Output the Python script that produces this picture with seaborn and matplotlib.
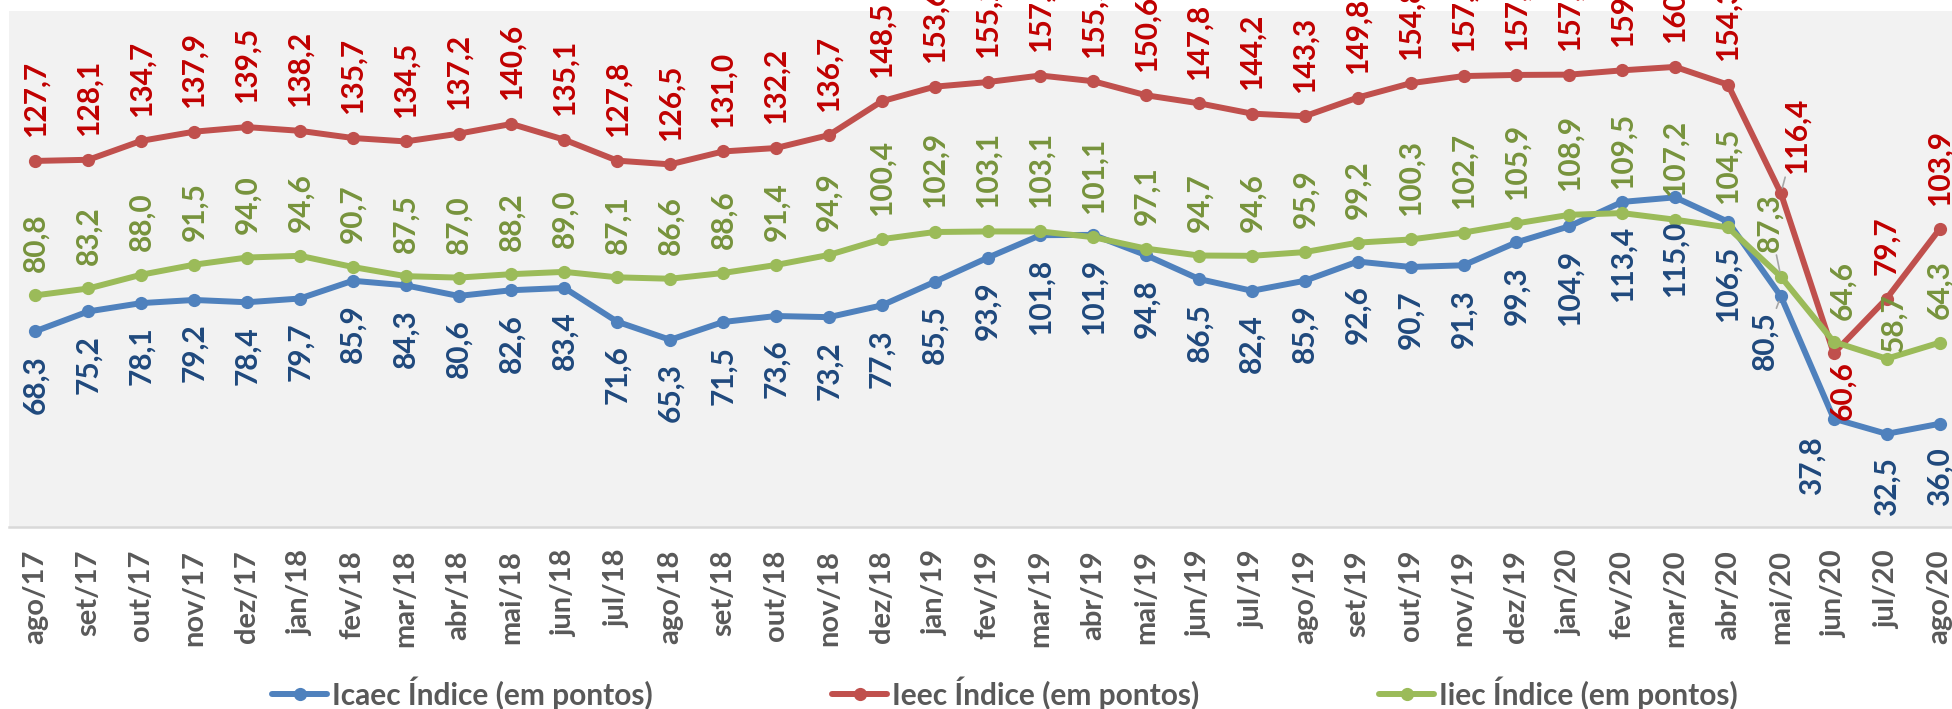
import numpy as np
import pandas as pd
import matplotlib.pyplot as plt
from matplotlib.lines import Line2D
import seaborn as sns

# Monthly values
months = ['ago/17', 'set/17', 'out/17', 'nov/17', 'dez/17', 'jan/18', 'fev/18', 'mar/18',
          'abr/18', 'mai/18', 'jun/18', 'jul/18', 'ago/18', 'set/18', 'out/18', 'nov/18',
          'dez/18', 'jan/19', 'fev/19', 'mar/19', 'abr/19', 'mai/19', 'jun/19', 'jul/19',
          'ago/19', 'set/19', 'out/19', 'nov/19', 'dez/19', 'jan/20', 'fev/20', 'mar/20',
          'abr/20', 'mai/20', 'jun/20', 'jul/20', 'ago/20']

icaec = [68.3, 75.2, 78.1, 79.2, 78.4, 79.7, 85.9, 84.3, 80.6, 82.6, 83.4, 71.6, 65.3,
         71.5, 73.6, 73.2, 77.3, 85.5, 93.9, 101.8, 101.9, 94.8, 86.5, 82.4, 85.9, 92.6,
         90.7, 91.3, 99.3, 104.9, 113.4, 115.0, 106.5, 80.5, 37.8, 32.5, 36.0]

ieec = [127.7, 128.1, 134.7, 137.9, 139.5, 138.2, 135.7, 134.5, 137.2, 140.6, 135.1,
        127.8, 126.5, 131.0, 132.2, 136.7, 148.5, 153.6, 155.2, 157.5, 155.5, 150.6,
        147.8, 144.2, 143.3, 149.8, 154.8, 157.3, 157.7, 157.8, 159.3, 160.5, 154.3,
        116.4, 60.6, 79.7, 103.9]

iiec = [80.8, 83.2, 88.0, 91.5, 94.0, 94.6, 90.7, 87.5, 87.0, 88.2, 89.0, 87.1, 86.6,
        88.6, 91.4, 94.9, 100.4, 102.9, 103.1, 103.1, 101.1, 97.1, 94.7, 94.6, 95.9, 99.2,
        100.3, 102.7, 105.9, 108.9, 109.5, 107.2, 104.5, 87.3, 64.6, 58.7, 64.3]

series = ['Icaec Índice (em pontos)', 'Ieec Índice (em pontos)', 'Iiec Índice (em pontos)']
line_colors = ['#4F81BD', '#C0504D', '#9BBB59']
label_colors = ['#1F497D', '#C00000', '#77933C']

df = pd.DataFrame({'pos': np.arange(len(months)), series[0]: icaec,
                   series[1]: ieec, series[2]: iiec})
long = df.melt(id_vars='pos', var_name='serie', value_name='valor')

sns.set_style('white')
plt.rcParams['font.family'] = ['Lato', 'DejaVu Sans']
plt.rcParams['font.weight'] = 'bold'

fig = plt.figure(figsize=(19.52, 7.09), dpi=100)
fig.patch.set_facecolor('white')
ax = fig.add_axes([9 / 1952, 182 / 709, 1957 / 1952, 516 / 709])
ax.set_facecolor('#F2F2F2')

sns.lineplot(data=long, x='pos', y='valor', hue='serie', hue_order=series,
             palette=line_colors, marker='o', markersize=9.5, markeredgewidth=0,
             linewidth=4.3, legend=False, ax=ax)

ax.set_xlim(-0.5, len(months) - 0.5)
ax.set_ylim(0, 180)
ax.set_yticks([])
ax.set_xlabel('')
ax.set_ylabel('')
ax.set_xticks(np.arange(len(months)))
ax.set_xticklabels(months, rotation=90, fontsize=21, fontweight='bold', color='#595959')
ax.tick_params(axis='x', length=0, pad=16.5)
for s in ['left', 'right', 'top']:
    ax.spines[s].set_visible(False)
ax.spines['bottom'].set_color('#D9D9D9')
ax.spines['bottom'].set_linewidth(1.8)

# data labels: above for Ieec / Iiec, below for Icaec; a few moved by hand
default_dy = [-17, 17, 17]
moved = {
    (1, 33): (11, 14, True),
    (2, 33): (-8, 18, True),
    (0, 33): (-12, -11, True),
    (1, 34): (6, -6, False),
    (2, 34): (6, 16, False),
    (0, 34): (-16, -13, False),
    (2, 35): (5, 5, False),
}
for k, vals in enumerate([icaec, ieec, iiec]):
    for i, v in enumerate(vals):
        dx, dy, leader = moved.get((k, i), (0, default_dy[k], False))
        txt = f'{v:.1f}'.replace('.', ',')
        arrow = dict(arrowstyle='-', color='#A6A6A6', lw=1.2, shrinkA=0, shrinkB=4) if leader else None
        ax.annotate(txt, xy=(i, v), xytext=(dx, dy), textcoords='offset points',
                    rotation=90, ha='center', va='bottom' if dy > 0 else 'top',
                    fontsize=21.5, fontweight='bold', color=label_colors[k],
                    annotation_clip=False, arrowprops=arrow)

handles = [Line2D([], [], color=c, lw=4.3, marker='o', markersize=9.5, markeredgewidth=0)
           for c in line_colors]
fig.legend(handles, series, loc='center left', bbox_to_anchor=(257 / 1952, 16 / 709),
           ncol=3, frameon=False, borderpad=0, handlelength=1.85, handletextpad=0.17,
           columnspacing=6.0, prop={'size': 21.5, 'weight': 'bold'}, labelcolor='#595959')

fig.savefig('out.png', dpi=100)
